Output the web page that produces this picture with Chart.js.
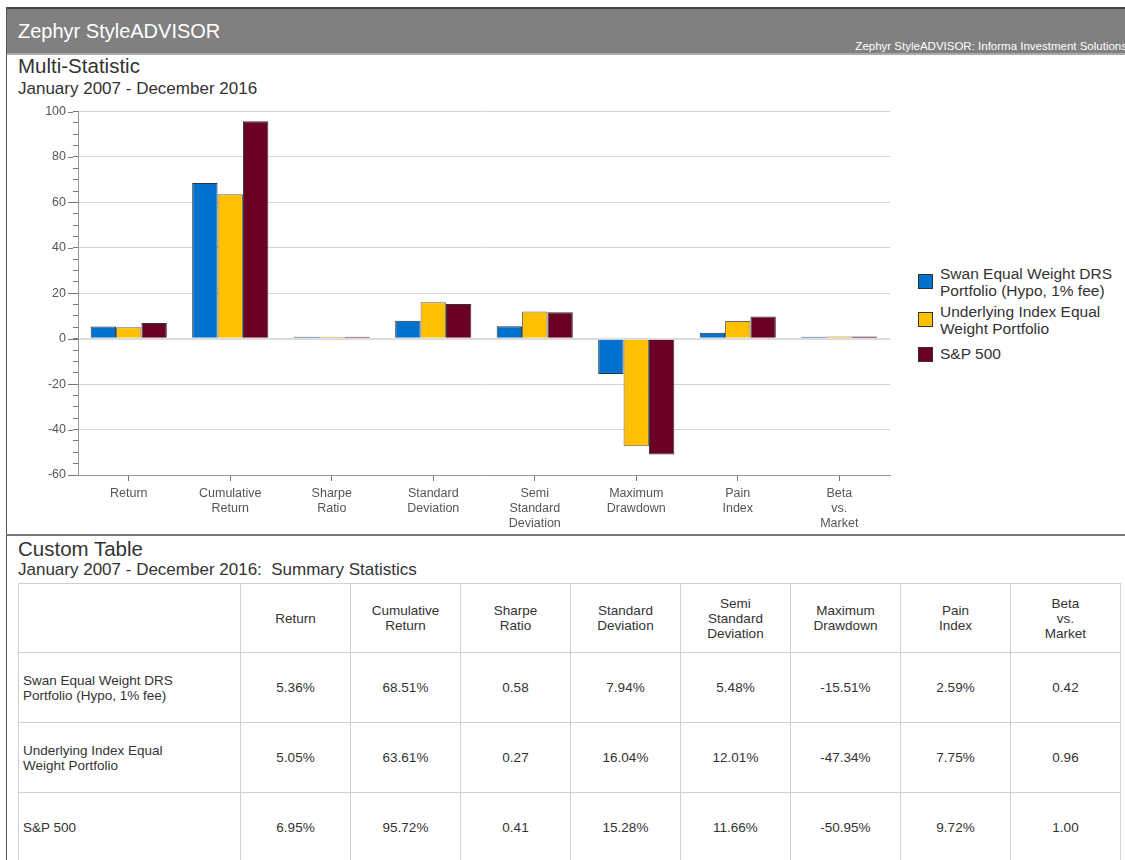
<!DOCTYPE html>
<html>
<head>
<meta charset="utf-8">
<script src="https://cdn.jsdelivr.net/npm/chart.js@4.4.1/dist/chart.umd.min.js"></script>
<style>
    body { margin: 0; width: 1125px; height: 860px; overflow: hidden; background: #fff; font-family: "Liberation Sans", Arial, sans-serif; color: #333; position: relative; }
    .frame { position: absolute; left: 6px; top: 7px; width: 1px; height: 853px; background: #555; }
    .header { position: absolute; left: 6px; top: 7px; width: 1119px; height: 44px; background: #808080; border-top: 2px solid #444; border-bottom: 2px solid #aaa; }
    .header .title { position: absolute; left: 12px; top: 11px; font-size: 20px; color: #fff; }
    .header .sub { position: absolute; right: -2px; top: 31px; font-size: 11.5px; color: #fff; white-space: nowrap; }
    .h1 { position: absolute; left: 18px; font-size: 20.5px; color: #333; }
    .h2 { position: absolute; left: 18px; font-size: 17px; color: #333; }
    .sep { position: absolute; left: 6px; top: 534px; width: 1119px; height: 2px; background: #777; }
    #chartBox { position: absolute; left: 0; top: 97px; width: 900px; height: 438px; }
    #legend { position: absolute; left: 918px; top: 265px; font-size: 15.5px; color: #333; }
    .lg { position: relative; padding-left: 22px; line-height: 17px; margin-bottom: 4px; }
    .lg .box { position: absolute; left: 0; width: 13px; height: 13px; border: 1px solid #333; }
    table { position: absolute; left: 18px; top: 583px; border-collapse: collapse; font-size: 13.5px; color: #333; }
    td { border: 1px solid #d0d0d0; text-align: center; padding: 0; }
    td.name { text-align: left; padding-left: 4px; width: 217px; }
    td.num { width: 109px; }
</style>
</head>
<body>
<div class="header">
    <div class="title">Zephyr StyleADVISOR</div>
    <div class="sub">Zephyr StyleADVISOR: Informa Investment Solutions</div>
</div>
<div class="frame"></div>
<div class="h1" style="top:54px">Multi-Statistic</div>
<div class="h2" style="top:79px">January 2007 - December 2016</div>
<div id="chartBox"><canvas id="multiStat"></canvas></div>
<div id="legend"></div>
<div class="sep"></div>
<div class="h1" style="top:537px">Custom Table</div>
<div class="h2" style="top:560px">January 2007 - December 2016:&nbsp; Summary Statistics</div>
<table id="stats"></table>

<script>
const categories = [
    ['Return'], ['Cumulative', 'Return'], ['Sharpe', 'Ratio'], ['Standard', 'Deviation'],
    ['Semi', 'Standard', 'Deviation'], ['Maximum', 'Drawdown'], ['Pain', 'Index'], ['Beta', 'vs.', 'Market']
];
const seriesNames = [
    ['Swan Equal Weight DRS', 'Portfolio (Hypo, 1% fee)'],
    ['Underlying Index Equal', 'Weight Portfolio'],
    ['S&P 500']
];
const seriesColors = ['#0072ce', '#ffc000', '#6a0026'];
const swanValues = [5.36, 68.51, 0.58, 7.94, 5.48, -15.51, 2.59, 0.42];
const indexValues = [5.05, 63.61, 0.27, 16.04, 12.01, -47.34, 7.75, 0.96];
const spValues = [6.95, 95.72, 0.41, 15.28, 11.66, -50.95, 9.72, 1.00];
const yTicks = [-60, -40, -20, 0, 20, 40, 60, 80, 100];

const allValues = [swanValues, indexValues, spValues];
const pctCols = [true, true, false, true, true, true, true, false];

const datasets = allValues.map((vals, i) => ({
    label: seriesNames[i].join(' '),
    data: vals,
    backgroundColor: seriesColors[i],
    borderColor: i === 1 ? '#666' : '#333',
    borderWidth: 1,
    minBarLength: 2,
    barPercentage: 1,
    categoryPercentage: 0.75
}));

// longer tick marks for the labelled y values
const majorTicks = {
    id: 'majorTicks',
    afterDraw(chart) {
        const y = chart.scales.y, ctx = chart.ctx;
        ctx.save();
        ctx.strokeStyle = '#777';
        ctx.lineWidth = 1;
        yTicks.forEach(v => {
            const py = Math.round(y.getPixelForValue(v)) + 0.5;
            ctx.beginPath();
            ctx.moveTo(y.right - 10, py);
            ctx.lineTo(y.right - 5, py);
            ctx.stroke();
        });
        ctx.restore();
    }
};

new Chart(document.getElementById('multiStat'), {
    type: 'bar',
    data: { labels: categories, datasets: datasets },
    plugins: [majorTicks],
    options: {
        responsive: true,
        maintainAspectRatio: false,
        animation: false,
        layout: { padding: { top: 5, right: 10, left: 0, bottom: 0 } },
        plugins: { legend: { display: false }, tooltip: { enabled: false } },
        scales: {
            x: {
                grid: { drawOnChartArea: false, offset: false, tickLength: 6, tickColor: '#777' },
                border: { color: '#999', width: 1 },
                ticks: { color: '#555', font: { size: 12.5 }, padding: 5, maxRotation: 0 },
                afterFit: s => { s.height = 60; }
            },
            y: {
                min: yTicks[0],
                max: yTicks[yTicks.length - 1],
                afterBuildTicks: s => {
                    const t = [];
                    for (let v = yTicks[0]; v <= yTicks[yTicks.length - 1]; v += 5) t.push({ value: v });
                    s.ticks = t;
                },
                grid: {
                    color: c => c.tick.value === 0 ? '#dcdcdc' : (yTicks.includes(c.tick.value) ? '#d4d4d4' : 'rgba(0,0,0,0)'),
                    lineWidth: c => c.tick.value === 0 ? 2 : 1,
                    tickColor: '#777',
                    tickLength: 5
                },
                border: { color: '#999', width: 1 },
                ticks: {
                    autoSkip: false,
                    color: '#555',
                    font: { size: 12.5 },
                    padding: 7,
                    callback: v => yTicks.includes(v) ? v : ''
                },
                afterFit: s => { s.width = 78; }
            }
        }
    }
});

// legend
const legend = document.getElementById('legend');
seriesNames.forEach((name, i) => {
    const d = document.createElement('div');
    d.className = 'lg';
    if (i === 2) d.style.marginTop = '8px';
    d.innerHTML = '<span class="box" style="top:' + (name.length > 1 ? 9 : 2) + 'px;background:' + seriesColors[i] + '"></span>' + name.join('<br>');
    legend.appendChild(d);
});

// table
const tbl = document.getElementById('stats');
let html = '<tr style="height:69px"><td class="name"></td>' + categories.map(c => '<td class="num">' + c.join('<br>') + '</td>').join('') + '</tr>';
allValues.forEach((vals, i) => {
    html += '<tr style="height:70px"><td class="name">' + seriesNames[i].join('<br>') + '</td>' +
        vals.map((v, j) => '<td class="num">' + v.toFixed(2) + (pctCols[j] ? '%' : '') + '</td>').join('') + '</tr>';
});
tbl.innerHTML = html;
</script>
</body>
</html>
